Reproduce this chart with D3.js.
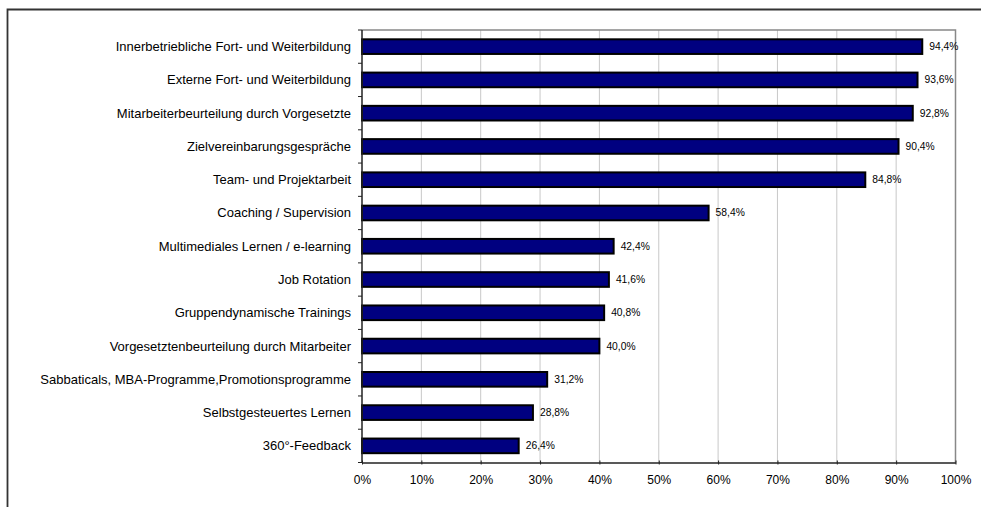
<!DOCTYPE html>
<html><head><meta charset="utf-8">
<script src="https://cdn.jsdelivr.net/npm/d3@7"></script>
<style>body{margin:0;background:#fff}svg{display:block}text{font-family:"Liberation Sans",Arial,sans-serif;fill:#000}</style>
</head><body><svg id="c" width="981" height="507"></svg>
<script>
const categories = ["Innerbetriebliche Fort- und Weiterbildung","Externe Fort- und Weiterbildung","Mitarbeiterbeurteilung durch Vorgesetzte","Zielvereinbarungsgespräche","Team- und Projektarbeit","Coaching / Supervision","Multimediales Lernen / e-learning","Job Rotation","Gruppendynamische Trainings","Vorgesetztenbeurteilung durch Mitarbeiter","Sabbaticals, MBA-Programme,Promotionsprogramme","Selbstgesteuertes Lernen","360°-Feedback"];
const values = [94.4,93.6,92.8,90.4,84.8,58.4,42.4,41.6,40.8,40.0,31.2,28.8,26.4];
const ticks = [0,10,20,30,40,50,60,70,80,90,100];

const svg = d3.select("#c");
// outer frame
svg.append("path").attr("d","M7.5,507 L7.5,9.5 L981,9.5").attr("fill","none").attr("stroke","#333").attr("stroke-width",1.8);

const L=362, R=955.5, T=30, B=462.5;
const x = d3.scaleLinear().domain([0,100]).range([L,R]);
const y = d3.scaleBand().domain(categories).range([T,B]).paddingInner(0.56).paddingOuter(0.28);
const yb = d3.scaleBand().domain(categories).range([T,B]);

// gridlines
svg.append("g").selectAll("line").data(ticks.filter(t=>t>0&&t<100)).join("line")
  .attr("x1",d=>x(d)).attr("x2",d=>x(d)).attr("y1",T).attr("y2",B)
  .attr("stroke","#c8c8c8").attr("stroke-width",1);
// plot border top & right
svg.append("path").attr("d",`M${L},${T} L${R},${T} L${R},${B}`).attr("fill","none").attr("stroke","#888").attr("stroke-width",1.5);

// bars
svg.append("g").selectAll("rect").data(values).join("rect")
  .attr("x",x(0)).attr("y",(d,i)=>y(categories[i]))
  .attr("width",d=>x(d)-x(0)).attr("height",y.bandwidth())
  .attr("fill","#000080").attr("stroke","#000").attr("stroke-width",2);

// value labels
svg.append("g").selectAll("text").data(values).join("text")
  .attr("x",d=>x(d)+7).attr("y",(d,i)=>y(categories[i])+y.bandwidth()/2+3.5)
  .attr("font-size",10.3).text(d=>d3.format(".1f")(d).replace(".",",")+"%");

// x axis
const xa = svg.append("g").attr("transform",`translate(0,${B})`)
  .call(d3.axisBottom(x).tickValues(ticks).tickSize(4).tickSizeOuter(0).tickFormat(d=>d+"%"));
xa.select(".domain").attr("stroke","#222").attr("stroke-width",1.5);
xa.selectAll(".tick line").attr("stroke","#222").attr("transform","translate(0,-2)");
xa.selectAll("text").attr("font-size",12).attr("font-family","Liberation Sans, Arial, sans-serif").attr("dy",null).attr("y",21.5);

// y axis
const ya = svg.append("g").attr("transform",`translate(${L},0)`);
ya.append("line").attr("x1",0).attr("x2",0).attr("y1",T).attr("y2",B).attr("stroke","#222").attr("stroke-width",1.5);
const bounds = categories.map(c=>yb(c)).concat([B]);
ya.selectAll("line.t").data(bounds).join("line").attr("class","t")
  .attr("x1",-4).attr("x2",0).attr("y1",d=>d).attr("y2",d=>d).attr("stroke","#222");
ya.selectAll("text").data(categories).join("text")
  .attr("x",-11).attr("y",c=>y(c)+y.bandwidth()/2+4.5).attr("text-anchor","end")
  .attr("font-size",13).text(c=>c);
</script></body></html>
